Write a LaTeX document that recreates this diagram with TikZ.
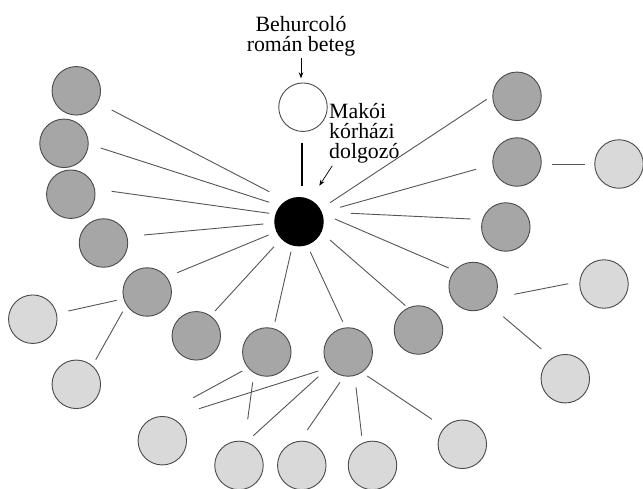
\documentclass[tikz,border=0pt]{standalone}
\usepackage{fontspec}
\setmainfont{Liberation Serif}
\usetikzlibrary{arrows.meta}
\definecolor{dk}{HTML}{A6A6A6}
\definecolor{lt}{HTML}{D9D9D9}
\definecolor{rim}{HTML}{4A4A4A}
\definecolor{ln}{HTML}{555555}
\newcommand\lk[4]{\draw[link] ([shift={(#2)}]#1.center) -- ([shift={(#4)}]#3.center);}
\begin{document}
\begin{tikzpicture}[x=1pt,y=-1pt,
  pers/.style={circle,draw=rim,line width=0.9pt,minimum size=48.5pt,inner sep=0pt},
  gen1/.style={pers,fill=dk},
  gen2/.style={pers,fill=lt},
  link/.style={draw=ln,line width=0.9pt},
  arr/.style={draw=black,line width=0.7pt,-{Stealth[length=6pt,width=4.5pt]}},
  lbl/.style={font=\fontsize{21.8}{20}\selectfont,inner sep=0pt}]
\useasboundingbox (0,0) rectangle (643,488);
% people
\node[pers,fill=black,draw=black] (C) at (299,221.7) {};
\node[pers,fill=white] (W) at (303,107.2) {};
\node[gen1] (G1) at (76.3,90.8) {};
\node[gen1] (G2) at (64,143.3) {};
\node[gen1] (G3) at (70.8,194.2) {};
\node[gen1] (G4) at (103.5,243) {};
\node[gen1] (G5) at (147.2,292) {};
\node[gen1] (G6) at (196.3,335.8) {};
\node[gen1] (G7) at (266.8,352) {};
\node[gen1] (G8) at (348.2,352) {};
\node[gen1] (G9) at (418.5,330) {};
\node[gen1] (G10) at (473.2,286.5) {};
\node[gen1] (G11) at (505.8,227) {};
\node[gen1] (G12) at (517,162) {};
\node[gen1] (G13) at (517,96.3) {};
\node[gen2] (L1) at (619,164) {};
\node[gen2] (L2) at (604,284) {};
\node[gen2] (L3) at (565.3,378.7) {};
\node[gen2] (L4) at (462.3,444.3) {};
\node[gen2] (L5) at (372.5,465.4) {};
\node[gen2] (L6) at (301.8,465.4) {};
\node[gen2] (L7) at (239,465.4) {};
\node[gen2] (L8) at (162.3,440.7) {};
\node[gen2] (L9) at (76.3,384.3) {};
\node[gen2] (L10) at (32.8,319.2) {};
% labels
\node[lbl,align=center,anchor=base] (T1) at (301,51.7) {Behurcoló\\román beteg};
\node[lbl,align=left,anchor=base west] (T2) at (329,158.3) {Makói\\kórházi\\dolgozó};
% arrows
\draw[arr] ([shift={(-2,-48.9)}]W.center) -- ([shift={(-2,-28.9)}]W.center);
\draw[arr] ([shift={(33.3,-56)}]C.center) -- ([shift={(20.3,-36)}]C.center);
\draw[line width=2.2pt] ([shift={(-1.3,35.5)}]W.center) -- ([shift={(2.7,-35.7)}]C.center);
% spokes
\lk{C}{-29.7,-30}{G1}{35.4,19.2}
\lk{C}{-29.7,-19.4}{G2}{36.7,4.7}
\lk{C}{-29.7,-8.4}{G3}{40.9,-2.9}
\lk{C}{-35.7,2.3}{G4}{40.5,-8}
\lk{C}{-30.4,13.3}{G5}{30.1,-19.3}
\lk{C}{-25,25}{G6}{18.7,-24.8}
\lk{C}{-8,30}{G7}{8.2,-30.3}
\lk{C}{11.2,30}{G8}{-5.5,-30.3}
\lk{C}{31,18.3}{G9}{-13.2,-24.5}
\lk{C}{36,-2.7}{G10}{-24.5,-18.5}
\lk{C}{52,-8.4}{G11}{-35.1,-8}
\lk{C}{41,-14.4}{G12}{-41,7.3}
\lk{C}{31,-19}{G13}{-30.3,3}
% second generation
\lk{G12}{35.3,2.3}{L1}{-34,0.3}
\lk{G10}{41.1,7.8}{L2}{-35.7,-0.3}
\lk{G10}{30.1,30.2}{L3}{-24,-29.7}
\lk{G5}{-30.5,8.3}{L10}{35.5,-8.2}
\lk{G5}{-24.5,19.7}{L9}{19.4,-24.6}
\lk{G7}{-24.5,19}{L8}{31,-43}
\lk{G8}{-29.9,19}{L8}{36.7,-32}
\lk{G7}{-14.1,30.3}{L7}{8.7,-46.1}
\lk{G8}{-29.9,24.7}{L7}{14.3,-29.7}
\lk{G8}{-8.2,30.3}{L6}{5.5,-35.4}
\lk{G8}{7.8,35.3}{L5}{-10.8,-29.7}
\lk{G8}{19.1,24}{L4}{-30.3,-25}
\end{tikzpicture}
\end{document}
